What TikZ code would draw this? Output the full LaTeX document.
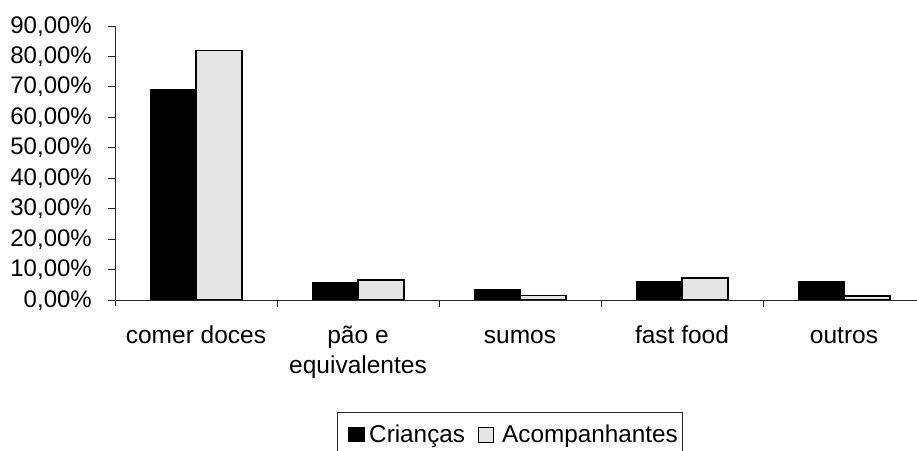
\documentclass[tikz,border=0pt]{standalone}
\usepackage{fontspec}
\setmainfont{Liberation Sans}
\begin{document}
\begin{tikzpicture}[x=1pt,y=-1pt,
  axisline/.style={line width=1pt, black!85},
  barA/.style={fill=black, draw=black, line width=1pt},
  barB/.style={fill=gray!20, draw=black, line width=1.6pt},
  ylab/.style={anchor=base east, font=\fontsize{24}{28}\selectfont, inner sep=0pt},
  xlab/.style={anchor=base, font=\fontsize{24.5}{30}\selectfont, align=center, inner sep=0pt},
  leglab/.style={anchor=base west, font=\fontsize{24.3}{28}\selectfont, inner sep=0pt},
  ]
\useasboundingbox (0,0) rectangle (917,450);
\clip (0,0) rectangle (917,450);
% bars: center, value A, value B
\foreach \c/\a/\b in {196/69/82, 358/5.9/6.6, 520/3.3/1.5, 682/6.0/7.2, 844/6.0/1.4}{
  \draw[barA] (\c-46,300) rectangle (\c,300-\a*3.044);
  \draw[barB] (\c,300) rectangle (\c+46,300-\b*3.044);
}
% axes
\draw[axisline] (115,300-9*30.44) -- (115,306);
\draw[axisline] (108,300) -- (917,300);
\foreach \k in {0,...,9}{
  \draw[axisline] (108,300-\k*30.44) -- (115,300-\k*30.44);
}
\foreach \x in {277,439,601,763}{
  \draw[axisline] (\x,300) -- (\x,307);
}
% y labels
\node[ylab] (y0) at (92,307) {0,00\%};
\node[ylab] (y1) at (92,307-1*30.44) {10,00\%};
\node[ylab] (y2) at (92,307-2*30.44) {20,00\%};
\node[ylab] (y3) at (92,307-3*30.44) {30,00\%};
\node[ylab] (y4) at (92,307-4*30.44) {40,00\%};
\node[ylab] (y5) at (92,307-5*30.44) {50,00\%};
\node[ylab] (y6) at (92,307-6*30.44) {60,00\%};
\node[ylab] (y7) at (92,307-7*30.44) {70,00\%};
\node[ylab] (y8) at (92,307-8*30.44) {80,00\%};
\node[ylab] (y9) at (92,307-9*30.44) {90,00\%};
% x labels
\node[xlab] (c1) at (196,343) {comer doces};
\node[xlab] (c2) at (358,373) {pão e\\equivalentes};
\node[xlab] (c3) at (520,343) {sumos};
\node[xlab] (c4) at (682,343) {fast food};
\node[xlab] (c5) at (844,343) {outros};
% legend
\draw[line width=1pt, black!85] (337,412) rectangle (682,470);
\fill[black] (348,427) rectangle (365,442);
\draw[fill=gray!20, line width=1pt] (478,427) rectangle (493,442);
\node[leglab] (l1) at (369,442) {Crianças};
\node[leglab] (l2) at (502,442) {Acompanhantes};
\end{tikzpicture}
\end{document}
